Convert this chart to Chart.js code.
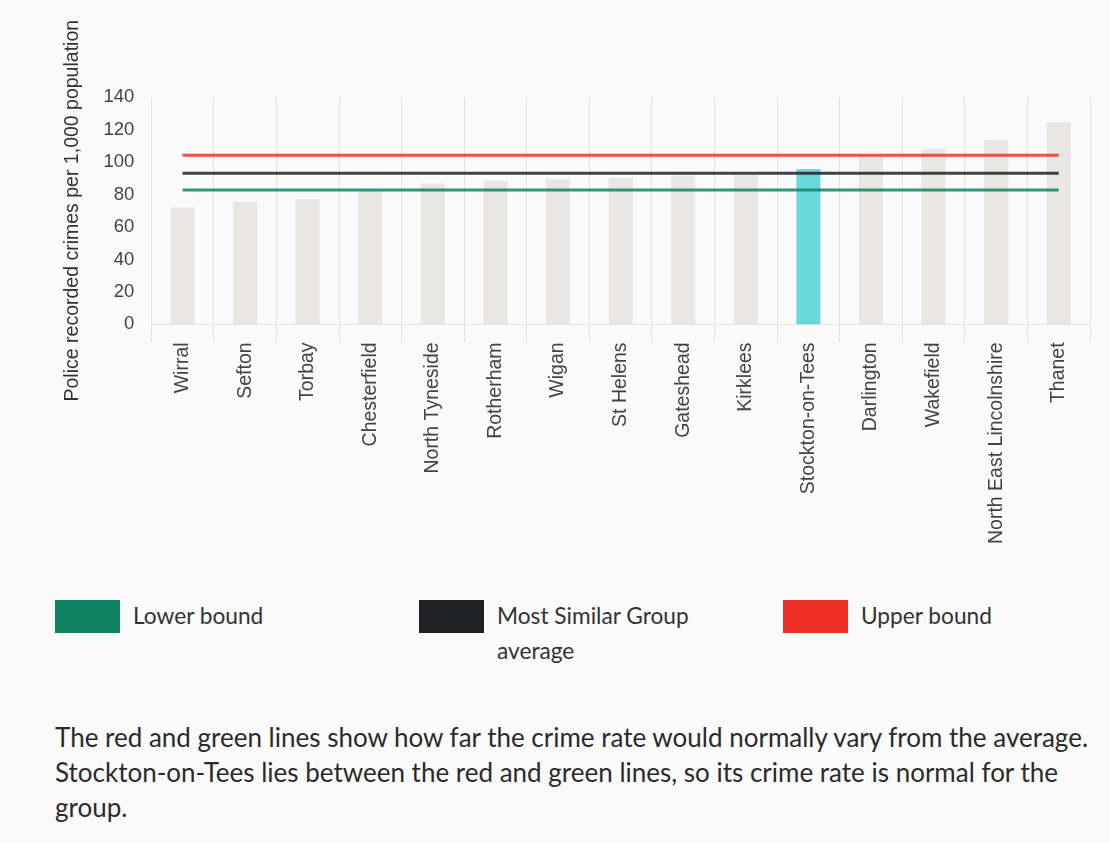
<!DOCTYPE html>
<html>
<head>
<meta charset="utf-8">
<script src="https://cdn.jsdelivr.net/npm/chart.js@4"></script>
<style>
  body {
    margin: 0;
    background: #fafafa;
    font-family: Lato, "Open Sans", sans-serif;
    color: #333;
  }
  .chart-wrap {
    position: relative;
    width: 1110px;
    height: 560px;
  }
  .legend {
    display: flex;
    margin: 40px 0 0 55px;
  }
  .legend-item {
    display: flex;
    align-items: flex-start;
    flex: none;
    width: 364px;
  }
  .swatch {
    width: 65px;
    height: 33px;
    flex: none;
    margin-right: 13px;
  }
  .legend-text {
    font-size: 22.7px;
    line-height: 35px;
    margin-top: -2px;
    max-width: 230px;
  }
  .note {
    margin: 52px 0 0 55px;
    width: 1045px;
    font-size: 26px;
    line-height: 35px;
    color: #2b2b2b;
  }
</style>
</head>
<body>
<div class="chart-wrap"><canvas id="chart"></canvas></div>

<div class="legend">
  <div class="legend-item"><div class="swatch" style="background:#108264"></div><div class="legend-text">Lower bound</div></div>
  <div class="legend-item"><div class="swatch" style="background:#202124"></div><div class="legend-text">Most Similar Group average</div></div>
  <div class="legend-item"><div class="swatch" style="background:#ee3124"></div><div class="legend-text">Upper bound</div></div>
</div>

<p class="note">The red and green lines show how far the crime rate would normally vary from the average. Stockton-on-Tees lies between the red and green lines, so its crime rate is normal for the group.</p>

<script>
// areas in the most similar group
const areas = [
  "Wirral", "Sefton", "Torbay", "Chesterfield", "North Tyneside",
  "Rotherham", "Wigan", "St Helens", "Gateshead", "Kirklees",
  "Stockton-on-Tees", "Darlington", "Wakefield", "North East Lincolnshire", "Thanet"
];

// police recorded crimes per 1,000 population
const crimeRates = [72, 75.6, 77, 82.5, 86.8, 88.3, 89.5, 90.5, 91.5, 92, 95.6, 103.5, 108, 113.7, 124.5];

const highlightArea = "Stockton-on-Tees";
const upperBound = 104.2;
const groupAverage = 93.1;
const lowerBound = 82.8;

const yTicks = [0, 20, 40, 60, 80, 100, 120, 140];

const flat = (v) => areas.map(() => v);

const barColors = areas.map((a) => (a === highlightArea ? "#68d9d9" : "#e8e7e3"));

new Chart(document.getElementById("chart"), {
  data: {
    labels: areas,
    datasets: [
      {
        type: "line",
        label: "Upper bound",
        data: flat(upperBound),
        borderColor: "rgba(238, 49, 36, 0.85)",
        borderWidth: 3,
        pointRadius: 0,
        order: 0,
      },
      {
        type: "line",
        label: "Most Similar Group average",
        data: flat(groupAverage),
        borderColor: "rgba(32, 33, 36, 0.85)",
        borderWidth: 3,
        pointRadius: 0,
        order: 0,
      },
      {
        type: "line",
        label: "Lower bound",
        data: flat(lowerBound),
        borderColor: "rgba(16, 130, 100, 0.85)",
        borderWidth: 3,
        pointRadius: 0,
        order: 0,
      },
      {
        type: "bar",
        label: "Crime rate",
        data: crimeRates,
        backgroundColor: barColors,
        barPercentage: 0.385,
        categoryPercentage: 1,
        order: 1,
      },
    ],
  },
  options: {
    responsive: true,
    maintainAspectRatio: false,
    animation: false,
    layout: {
      padding: { top: 97, left: 57, right: 20, bottom: 16 },
    },
    plugins: {
      legend: { display: false },
      tooltip: { enabled: false },
    },
    scales: {
      x: {
        offset: true,
        grid: {
          offset: true,
          color: (ctx) => (ctx.index === areas.length ? "rgba(0,0,0,0)" : "#e3e3e3"),
          tickLength: 18,
        },
        border: { color: "#e6e6e6" },
        ticks: {
          autoSkip: false,
          minRotation: 90,
          maxRotation: 90,
          padding: 0,
          color: "#444",
          font: { family: "Liberation Sans, Arial", size: 19.5 },
        },
      },
      y: {
        min: 0,
        max: 140,
        afterBuildTicks: (axis) => {
          axis.ticks = yTicks.map((v) => ({ value: v }));
        },
        grid: { display: false, drawTicks: false },
        border: { color: "#e6e6e6" },
        ticks: {
          padding: 17,
          color: "#444",
          font: { family: "Liberation Sans, Arial", size: 18.5 },
        },
        title: {
          display: true,
          text: "Police recorded crimes per 1,000 population",
          color: "#333",
          padding: { top: 4, bottom: 2 },
          font: { family: "Liberation Sans, Arial", size: 19.5 },
        },
      },
    },
  },
});
</script>
</body>
</html>
